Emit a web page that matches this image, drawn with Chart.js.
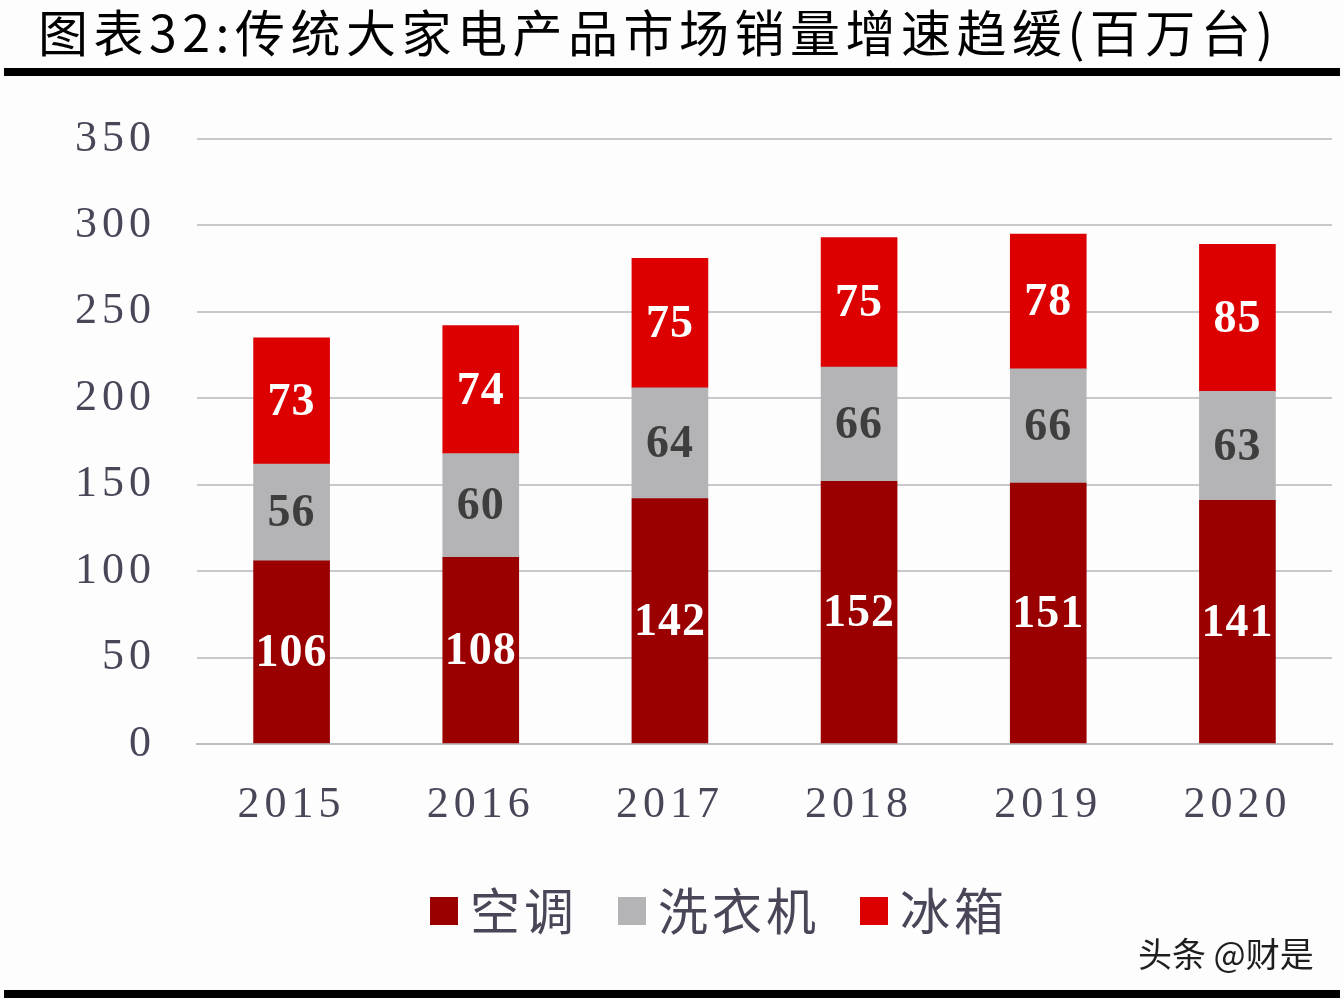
<!DOCTYPE html>
<html><head><meta charset="utf-8">
<script src="https://cdn.jsdelivr.net/npm/chart.js@4"></script>
<style>
html,body{margin:0;padding:0}
body{background:#fefdfe;width:1344px;height:1000px;overflow:hidden;position:relative}
#title{position:absolute;left:38px;top:0px;font:50px "Noto Sans CJK SC";letter-spacing:5.5px;color:#000;white-space:nowrap;line-height:60px}
.rule{position:absolute;left:4px;width:1336px;background:#000}
#r1{top:68px;height:8px}
#r2{top:990px;height:8px}
#wm{position:absolute;left:1138px;top:930px;font:34px "Noto Sans CJK SC";color:#1e1e1e;white-space:nowrap;line-height:46px}
#wrap{position:absolute;left:0;top:0;width:1344px;height:1000px}
</style></head>
<body>
<div id="wrap"><canvas id="c" width="1344" height="1000"></canvas></div>
<div id="title">图表32:传统大家电产品市场销量增速趋缓(百万台)</div>
<div class="rule" id="r1"></div>
<div class="rule" id="r2"></div>
<div id="wm">头条 @财是</div>
<script>
const categories = ['2015','2016','2017','2018','2019','2020'];
const seriesNames = ['空调','洗衣机','冰箱'];
const airCon = [106,108,142,152,151,141];
const washer = [56,60,64,66,66,63];
const fridge = [73,74,75,75,78,85];
const yTicks = [0,50,100,150,200,250,300,350];

const colors = ['#9b0000','#b4b4b6','#dc0000'];
const labelColors = ['#ffffff','#3e3e3e','#ffffff'];
const textColor = '#4b4558';

const spacingPlugin = {
  id:'spacing',
  beforeDraw(chart){ chart.ctx.letterSpacing = '5px'; }
};
const labelPlugin = {
  id:'labels',
  afterDatasetsDraw(chart){
    const ctx = chart.ctx;
    ctx.save();
    ctx.letterSpacing = '1px';
    ctx.font = 'bold 46px "Liberation Serif"';
    ctx.textAlign = 'center';
    ctx.textBaseline = 'middle';
    chart.data.datasets.forEach((ds,i)=>{
      const meta = chart.getDatasetMeta(i);
      meta.data.forEach((bar,j)=>{
        const cy = (bar.y + bar.base)/2;
        ctx.fillStyle = labelColors[i];
        ctx.fillText(String(ds.data[j]), bar.x, cy + 2);
      });
    });
    ctx.restore();
  },
  afterDraw(chart){
    const ctx = chart.ctx;
    ctx.save();
    ctx.letterSpacing = '4px';
    ctx.font = '50px "Noto Sans CJK SC"';
    ctx.textBaseline = 'middle';
    ctx.textAlign = 'left';
    let x = 430;
    const cy = 911;
    chart.data.datasets.forEach((ds,i)=>{
      ctx.fillStyle = ds.backgroundColor;
      ctx.fillRect(x, cy-14, 28, 28);
      x += 28 + 12;
      ctx.fillStyle = textColor;
      ctx.fillText(ds.label, x, cy);
      x += ctx.measureText(ds.label).width + 40;
    });
    ctx.restore();
  }
};

new Chart(document.getElementById('c'), {
  type:'bar',
  data:{
    labels: categories,
    datasets:[
      {label:seriesNames[0], data:airCon, backgroundColor:colors[0]},
      {label:seriesNames[1], data:washer, backgroundColor:colors[1]},
      {label:seriesNames[2], data:fridge, backgroundColor:colors[2]}
    ]
  },
  options:{
    responsive:false,
    animation:false,
    layout:{padding:{top:139,right:12,left:0,bottom:0}},
    datasets:{bar:{barThickness:76, borderWidth:0}},
    plugins:{legend:{display:false}, tooltip:{enabled:false}, title:{display:false}},
    scales:{
      x:{
        stacked:true,
        grid:{display:false, drawTicks:false},
        border:{display:true, color:'#bdbdc2', width:2},
        ticks:{font:{family:'"Liberation Serif"', size:44}, color:textColor, padding:35},
        afterFit(s){ s.height = 256; }
      },
      y:{
        stacked:true,
        min:0, max:350,
        afterBuildTicks(s){ s.ticks = yTicks.map(v=>({value:v})); },
        grid:{color:'#c9c9cd', lineWidth:2, drawTicks:false},
        border:{display:false},
        ticks:{font:{family:'"Liberation Serif"', size:44}, color:textColor, padding:41},
        afterFit(s){ s.width = 197; }
      }
    }
  },
  plugins:[spacingPlugin, labelPlugin]
});
</script>
</body></html>
